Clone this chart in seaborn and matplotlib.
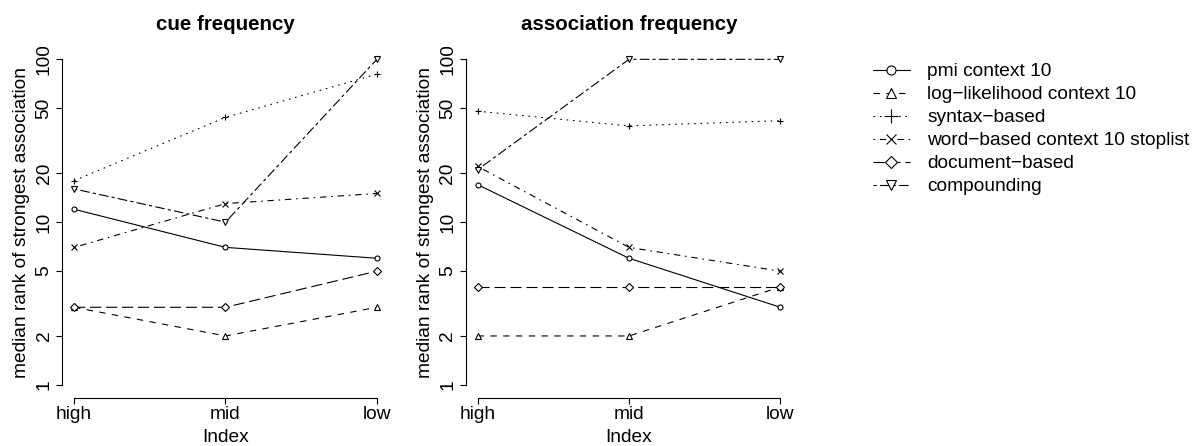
import numpy as np
import pandas as pd
import seaborn as sns
import matplotlib.pyplot as plt
from matplotlib.lines import Line2D
from matplotlib.ticker import NullLocator

# ---------------- data ----------------
categories = ["high", "mid", "low"]
methods = ["pmi context 10", "log\u2212likelihood context 10", "syntax\u2212based",
           "word\u2212based context 10 stoplist", "document\u2212based", "compounding"]
panels = ["cue frequency", "association frequency"]

cue_pmi = [12, 7, 6]
cue_loglik = [3, 2, 3]
cue_syntax = [18, 44, 81]
cue_word = [7, 13, 15]
cue_document = [3, 3, 5]
cue_compounding = [16, 10, 100]

assoc_pmi = [17, 6, 3]
assoc_loglik = [2, 2, 4]
assoc_syntax = [48, 39, 42]
assoc_word = [22, 7, 5]
assoc_document = [4, 4, 4]
assoc_compounding = [21, 100, 100]

yticks = [1, 2, 5, 10, 20, 50, 100]
ytick_labels = ["1", "2", "5", "10", "20", "50", "100"]

panel_values = {
    "cue frequency": [cue_pmi, cue_loglik, cue_syntax, cue_word, cue_document, cue_compounding],
    "association frequency": [assoc_pmi, assoc_loglik, assoc_syntax, assoc_word,
                              assoc_document, assoc_compounding],
}

rows = []
for p in panels:
    for m, vals in zip(methods, panel_values[p]):
        for i, (c, v) in enumerate(zip(categories, vals)):
            rows.append({"panel": p, "method": m, "pos": i + 1, "category": c, "value": v})
df = pd.DataFrame(rows)

# ---------------- styles ----------------
u = 1.15  # R lty unit in points
line_styles = [
    "-",
    (0, (4 * u, 4 * u)),
    (0, (1 * u, 3 * u)),
    (0, (1 * u, 3 * u, 4 * u, 3 * u)),
    (0, (7 * u, 3 * u)),
    (0, (2 * u, 2 * u, 6 * u, 2 * u)),
]
marker_styles = ["o", "^", "+", "x", "D", "v"]
plot_ms = [3.6, 4.2, 5.0, 4.0, 3.6, 4.2]
leg_ms = [6.5, 7.5, 9.5, 7.0, 6.0, 7.5]

sns.set_style("ticks")
plt.rcParams["font.family"] = ["Liberation Sans", "DejaVu Sans"]
plt.rcParams["lines.scale_dashes"] = False
plt.rcParams["axes.linewidth"] = 0.8
for key in ["text.color", "axes.labelcolor", "xtick.color", "ytick.color", "axes.edgecolor"]:
    plt.rcParams[key] = "black"

W, H = 1196, 446
fig = plt.figure(figsize=(W / 100, H / 100), dpi=100)

ax_lefts = [62, 465.5]
ax_w = 327
ax_top, ax_bot = 46.3, 398

fs = 13.8
for p, left in zip(panels, ax_lefts):
    ax = fig.add_axes([left / W, (H - ax_bot) / H, ax_w / W, (ax_bot - ax_top) / H])
    sub = df[df["panel"] == p]
    for k, m in enumerate(methods):
        d = sub[sub["method"] == m]
        sns.lineplot(data=d, x="pos", y="value", ax=ax, color="black", lw=0.8,
                     linestyle=line_styles[k], marker=marker_styles[k], ms=plot_ms[k],
                     mfc="white", mec="black", mew=0.8, errorbar=None, legend=False)
    ax.set_yscale("log")
    ax.set_xlim(0.92, 3.08)
    ax.set_ylim(10 ** -0.08, 10 ** 2.08)
    ax.set_xticks([1, 2, 3], categories)
    ax.set_yticks(yticks, ytick_labels)
    ax.yaxis.set_minor_locator(NullLocator())
    for s in ["top", "right"]:
        ax.spines[s].set_visible(False)
    ax.spines["left"].set_bounds(1, 100)
    ax.spines["bottom"].set_bounds(1, 3)
    ax.tick_params(direction="out", length=4.3, width=0.8, labelsize=fs,
                   color="black", labelcolor="black")
    ax.tick_params(axis="x", pad=1.5)
    ax.tick_params(axis="y", pad=2.5, labelrotation=90)
    for lab in ax.get_yticklabels():
        lab.set_va("center")
    ax.set_xlabel("Index", fontsize=fs, labelpad=4.5, color="black")
    ax.set_ylabel("median rank of strongest association", fontsize=fs, labelpad=4,
                  color="black")
    ax.set_title(p, fontsize=14.8, fontweight="bold", pad=11.5, color="black")

handles = [Line2D([0], [0], color="black", lw=0.8, linestyle=line_styles[k],
                  marker=marker_styles[k], ms=leg_ms[k], mfc="white", mec="black", mew=0.8)
           for k in range(len(methods))]
fig.legend(handles, methods, loc="upper left", bbox_to_anchor=(873 / W, 1 - 63 / H),
           frameon=False, fontsize=fs, handlelength=1.93, handletextpad=0.89,
           labelspacing=0.29, borderpad=0, borderaxespad=0, numpoints=1)

fig.savefig("out.png", dpi=100)
